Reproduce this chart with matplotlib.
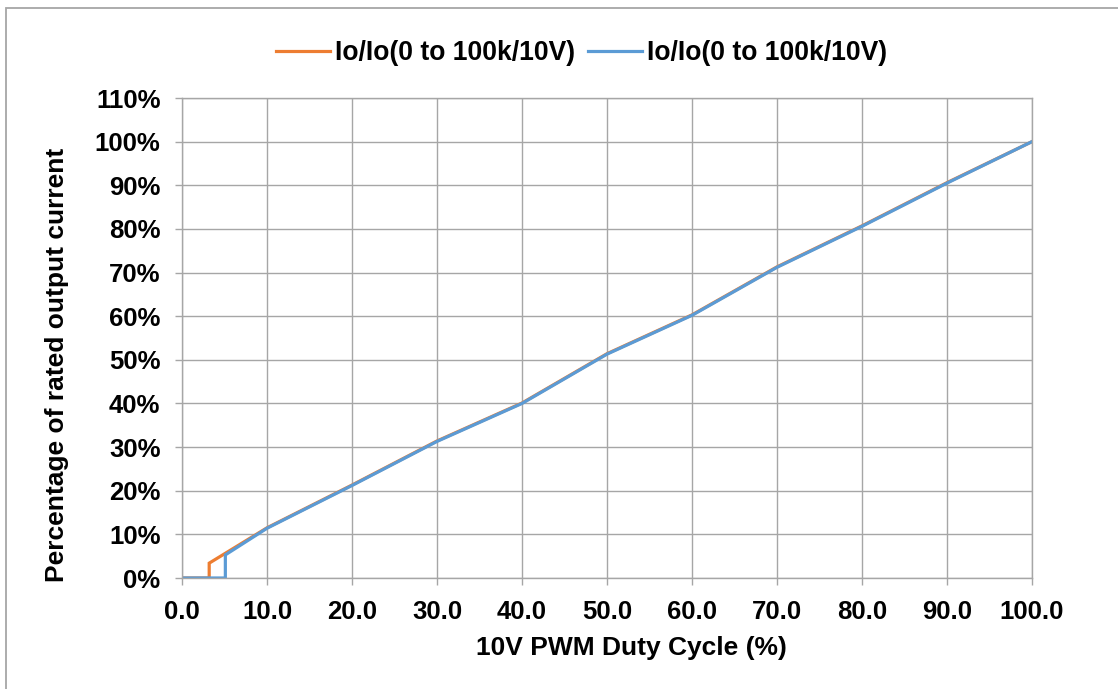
import matplotlib
matplotlib.use("Agg")
import matplotlib.pyplot as plt
from matplotlib.patches import Rectangle

duty_orange = [0, 3.2, 3.2, 10, 20, 30, 40, 50, 60, 70, 80, 90, 100]
pct_orange = [0, 0, 3.4, 11.5, 21.3, 31.4, 40.1, 51.4, 60.3, 71.3, 80.7, 90.6, 100]
duty_blue = [0, 5.1, 5.1, 10, 20, 30, 40, 50, 60, 70, 80, 90, 100]
pct_blue = [0, 0, 5.3, 11.4, 21.2, 31.3, 40.0, 51.3, 60.2, 71.2, 80.6, 90.5, 100]
series_labels = ["Io/Io(0 to 100k/10V)", "Io/Io(0 to 100k/10V)"]
x_ticks = [0, 10, 20, 30, 40, 50, 60, 70, 80, 90, 100]
y_ticks = [0, 10, 20, 30, 40, 50, 60, 70, 80, 90, 100, 110]

plt.rcParams['font.family'] = ['Liberation Sans', 'DejaVu Sans']
plt.rcParams['font.weight'] = 'bold'

W, H = 1118, 689
fig = plt.figure(figsize=(W/100, H/100), dpi=100)
ax = fig.add_axes([182/W, 1-578/H, (1032-182)/W, (578-98)/H])

grid_c = '#a6a6a6'
ax.plot(duty_orange, pct_orange, color='#ED7D31', lw=2.3, label=series_labels[0], solid_joinstyle='miter')
ax.plot(duty_blue, pct_blue, color='#5B9BD5', lw=2.3, label=series_labels[1], solid_joinstyle='miter')

ax.set_xlim(0, 100)
ax.set_ylim(0, 110)
ax.set_xticks(x_ticks)
ax.set_xticklabels([f"{v:.1f}" for v in x_ticks])
ax.set_yticks(y_ticks)
ax.set_yticklabels([f"{v}%" for v in y_ticks])
ax.grid(True, color=grid_c, lw=1.0)
ax.set_axisbelow(True)
for s in ax.spines.values():
    s.set_color(grid_c)
    s.set_linewidth(1.0)
ax.tick_params(axis='both', direction='out', length=5, width=1, color=grid_c,
               labelsize=18.5, pad=10.5)
for lab in ax.get_xticklabels() + ax.get_yticklabels():
    lab.set_fontweight('bold')

fig.text(631/W, 1-655/H, "10V PWM Duty Cycle (%)", fontsize=19, fontweight='bold',
         ha='center', va='baseline')
fig.text(57/W, 1-365/H, "Percentage of rated output current", fontsize=19, fontweight='bold',
         ha='center', va='center', rotation=90)

fig.legend(loc='center', bbox_to_anchor=(581.5/W, 1-53/H), ncol=2, frameon=False,
           handlelength=2.04, handletextpad=0.19, columnspacing=0.49,
           prop={'weight': 'bold', 'size': 19.1})

fig.patches.append(Rectangle((5.5/W, -0.1), 1.2, (H-8)/H + 0.1, transform=fig.transFigure,
                             fill=False, edgecolor='#a6a6a6', lw=1.3))

fig.savefig("out.png", dpi=100)
